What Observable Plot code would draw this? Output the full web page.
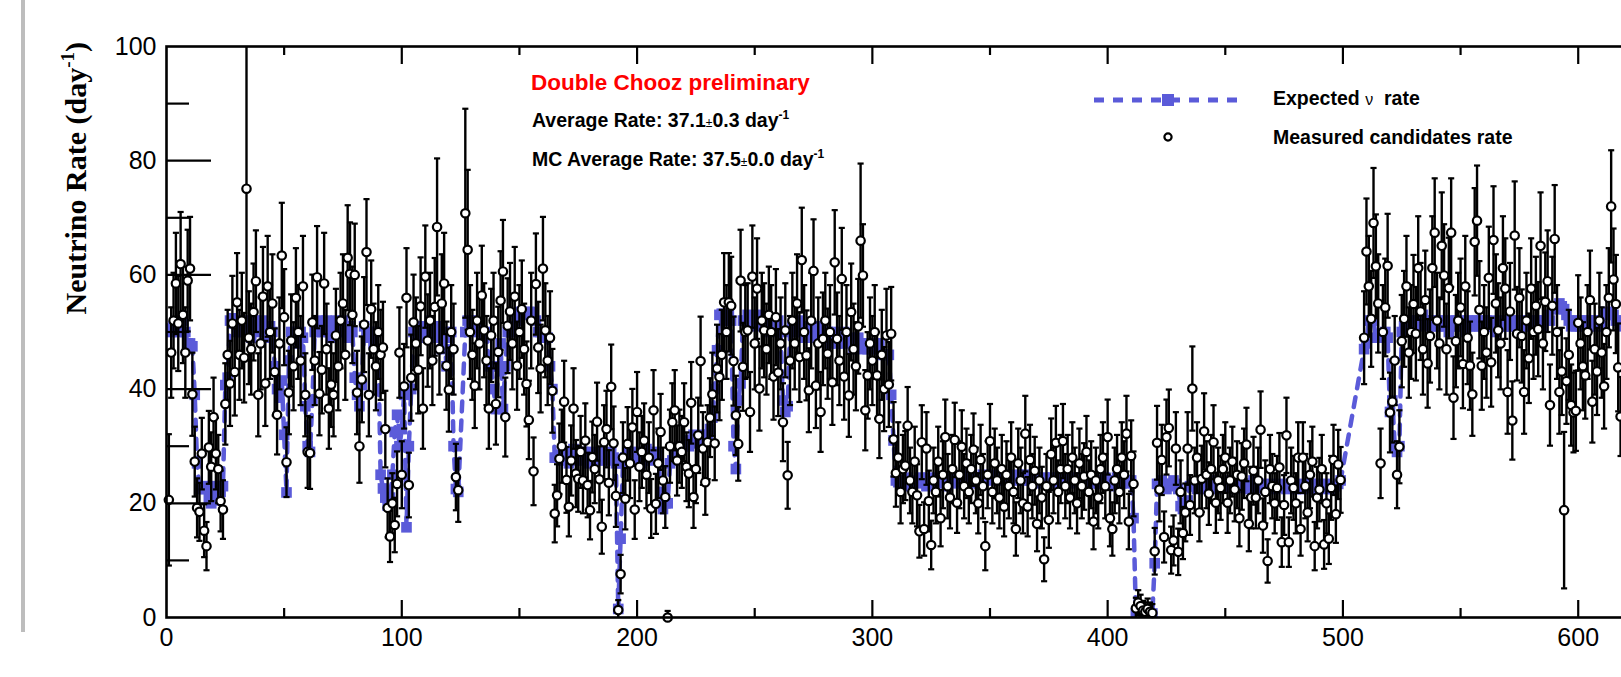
<!DOCTYPE html>
<html><head><meta charset="utf-8">
<script src="https://cdn.jsdelivr.net/npm/d3@7"></script>
<script src="https://cdn.jsdelivr.net/npm/@observablehq/plot@0.6"></script>
<style>
html,body{margin:0;padding:0;overflow:hidden;background:#fff;width:1621px;height:677px}
#wrap{position:relative;width:1621px;height:677px;overflow:hidden;background:#fff}
#bar{position:absolute;left:21px;top:0;width:4px;height:632px;background:#bdbdbd;z-index:2}
#chart{position:absolute;left:0;top:0}
#chart svg{max-width:none !important}
</style></head><body><div id="wrap"><div id="bar"></div><div id="chart"></div></div>
<script>
// ---- data: measured candidate rate per day and expected rate (day^-1) ----
const startA = 1;
const measA = [
20.6,46.4,52,58.5,51.5,61.9,53,46.4,59,61.1,
39.1,27.3,19.2,18.5,28.7,15.2,12.5,29.8,26.4,35.1,
28.7,26,20.4,18.9,37.4,46,41,51.5,43,55.2,
46,52,45.5,75.1,49,47,53.5,58.9,39,48,
56.2,41,58,50,55,43,35.5,48,63.4,52.6,
27.2,39.4,48.5,44,56,50,45,58,39,29,
28.8,51.7,45,59.6,39.2,43.4,58.5,47,36.6,40.8,
39,49.4,44,52,55,46,63,60.2,53,60,
39.4,30,41.7,51.3,64,39,54,47,44,50,
46,47.3,33,19.2,14.2,20,16.2,23.4,46.4,25,
40.5,56,23.2,42,51.7,48,43.4,54.5,36.6,59.7,
48.5,52,45,54.4,68.4,47,55,58.5,44.1,39.9,
50,47,24.6,22.3];
const expA = [
50.6,50,51,50.6,50,51,52,50,48,48,
47.5,39,27,22.5,22.8,22.5,23,21,20,22,
23,20.5,22,23,40.7,42,52,52.4,52,50,
51,50,52,51,50,49,51,52,50,51,
52,50,49,51,50,44,40,38.5,41.5,32,
21.9,45,50,49,50,48,50,49,37,30,
29,38,50,51,52,50,51,52,50,49,
51,52,50,51,52,50,49,51,50,42,
39,37,40.7,51,50,49,50,48,50,47,
25,22.6,21,19.6,21,25,32.5,35.5,30,33,
39,15.8,30,40,50,49,51,50,49,51,
50,52,50,49,51,50,47,50,44,49,
50,30,22.5,22];

const startB = 127;
const measB = [
70.8,64.4,50,46,40.6,52,48,56.4,50.3,45,
36.6,49.4,52,37.4,46.5,55.5,60.6,35.1,51.1,53.6,
48,56.2,44.1,50,54,47,40.9,34.6,52,25.6,
58.4,47.3,43.6,61.1,50.3,45,49,39.7,18.2,21.4,
27.8,30,37.8,24.1,19.4,27.5,36.6,25.2,24.3,29,
24,31,23.2,18.8,28.1,26,34.3,24.2,15.9,30.7,
33,23.6,40.4,30.5,21.3,1.3,7.6,28,20.8,30.4,
27,33.3,18.9,36,26.4,29,31,25,28,19.1,
36.3,19.9,27,32.5,24,21.1,0,30,34.2,36.3,
27.5,30,29,34.2,26.4,25.2,37.6,21.1,26,31.9,
44.9,29.6,23.7,30.7,35,39.1,30.5,43.6,42.1,46,
55.2,50,55.2,54.6,44.9,35.4,30.4,59,43.9,50,
50.3,36,59.7,48,57.6,40.1,52,50.3,47,53,
50,42.2,52.6,42.9,48,34.2,50.3,24.9,45,52,
48,55,45.6,62.6,50,45.9,39.8,52,60.7,40.6,
48,36,48.8,52,46.2,50,41.2,62.2,48.8,45,
59.3,42.2,50,38.9,53.5,47,44,51,66,59.9,
36.3,42.4,48,45,50,42.4,34.8,46,40,49.4,
40.8,49.7,31.2,25.3,28,22,26,26.6,33.6,24,
22,27.3,21.4,15.1,30.7,15.5,29.6,20.4,12.7,24,
22,27.3,17.4,25,31.6,23,21,26,31.1,20.1,
25,29.9,23,27,22,26,29.4,24,20,27.6,
23,12.5,25,30.9,22,27,24,21,26,19.4,
25,23,28,22,15.5,27,24,20,32.2,19.4,
27.6,23,25.7,16.4,24,21,10.2,23,17.1,28.6,
24,30.6,22,26,30.9,23,26,21,28,24,
20,27,23,24.7,29,22,25,16.8,24,21,
26,28,23,31.6,17.4,15.5,24,26,22,28,
25,32.2,16.8,28.3,23.4,1.6,2.6,2.0,1.2,1.0,
1.5,1.0,0.8,11.6,30.6,22.4,27.6,14.1,31.6,33.2,
11.8,13.5,29.6,11.5,22,14.8,18.4,29.6,19.7,40.1,
24,28,18.4,24.3,32.6,25,21.7,26,30.7,20.1,
24,22.7,26,28,20.1,24,27.3,22.4,25,17.4,
24.7,27,30.3,16.4,21,25.7,21,24,32.9,16.1,
22,9.9,26,23,20,22.7,26.3,13.2,19.7,31.9,
13.2,24,22.7,20,28,15.5,28,23,18.4,25,
27.3,12.5,21,22.4,26,12.8,20,13.8,22.7,27.6,
18.1,26.8,24.1];
const expB = [
50,52,52,52,51,50,51,50,49,50,
44,44,40,36.5,44,48,36.5,44,50,50,
51,50,52,53.5,53.5,53.5,53,53.5,53,53.5,
52,50,50,49,50,49,44,40,28,28,
28.5,27.5,29,28,27,28.5,29.5,28,27.5,28,
29,28,27,28.5,29,28,27.5,28,29,28.5,
27.5,28,29,28,27,1.5,13.8,27,28,29,
28,27.5,28.5,29,28,27,28.5,29.5,28,27.5,
28,29,28.5,22,19,20,20,27,27.5,28,
29,30,29.5,30,31,30,31,32,31,30.5,
31,32,31.5,32,33,35,40,46.8,53,53.2,
52,52,53,52,30,26,38,41,52,52,
53,52,51,52,53,52,51,52,50,51,
52,50,51,52,50,38,36,37,50,51,
50,51,52,50,49,51,50,49,50,51,
49,50,51,49,50,48,49,50,48,49,
48,50,49,48,49,47,48,49,48,47,
48,47,48,47,48,47,48,46,46,46,
46,39,31,24,23.7,23.5,24,23,24.5,23.5,
23,24,23.7,24.5,23.5,24,23,24.5,24,23.5,
24,24.5,23.5,24.3,24,23,24.5,24,23.5,24,
24.5,24,23.5,24,25,24.5,24,23.5,24.5,24,
25,24.5,24,24.7,25,24.5,24,25,24.5,24,
24.7,25,24.5,24,24.7,25,24.5,24,25,24.5,
24,24.7,25,24.5,24,23.5,24.5,24,23.7,24.5,
24,23.5,24.5,24,23.5,24,24.5,23.5,24,23.7,
24.5,24,23.5,24,23,24.5,24,23.5,24,23.5,
24,23.5,24.5,24,23.5,24,23,24.5,24,23.5,
24,23.5,24,24,17.4,0.7,0.7,0.6,0.7,0.6,
0.7,0.6,0.7,9.5,23.4,23,24,23.4,22.5,23.4,
23,24,23.4,22.5,19.5,19,20,20.5,23,23.4,
23,22.5,23.4,24,23,22.5,23.4,23,24,23,
22.5,23.4,23,22.7,23.4,24,23,22.5,23.4,23,
22.7,23.4,23,22.5,23.4,24,23,22.7,23.4,23,
22.5,23,23.4,22.7,22.5,23,23.4,22.7,23,22.5,
23.4,23,22.7,22.5,23,23.4,22.5,23,22.7,23.4,
23,22.5,23.4,22.7,23,22.5,23.4,22.7,23,22.5,
23,23.4,24];

const startC = 509;
const measC = [
49,64.1,58,52.3,69.1,61.5,55,27,50,54.3,
61.6,35.9,37.8,45,25,29.9,48.4,52.3,58,46.4,
50,54.9,49.7,61.2,53.6,47,55.6,44.5,49.3,61.2,
67.4,52,48,65.1,59.9,47,57.7,67.4,38.5,48.4,
52,54.3,44.4,58,49,44.1,39.1,65.8,69.5,53.9,
44.1,50,46.4,59.5,44.7,66.1,55,50.3,48,61.2,
57.6,39.5,53.6,34.5,66.9,49.7,56,49.3,39.5,52,
45.4,57.6,50,54.6,50.5,65.1,48,55.3,58.9,37.2,
54.6,66.3,50,39.5,43.1,18.8,41.4,46,37.2,35.9,
36.2,51.6,48,44,42.4,50,55.6,37.8,47,43.1,
52,46.4,40.5,50,56,72,59.2,54.9,43.8,35.2];
const expC = [
47,48,52,52,52,49,49,49,49,50,
49,36,38,30,29,30,50,51,52,51,
52,51,52,51,52,53,52,51,52,51,
52,51,52,51,52,51,50,52,51,52,
51,52,51,50,52,51,52,51,52,51,
52,51,52,51,52,51,50,51,52,51,
52,51,52,51,52,51,52,51,52,51,
51,52,51,52,51,52,51,52,53,52,
54,54.5,54,55,54.5,54,53,52,51,52,
51,52,51,52,51,52,51,52,52,51,
52,51,53,53.5,53,53.5,53,52,52,51];

// days with short live time (larger statistical error), [day, error]
const shortDays = [[1, 11.5], [34, 26], [115, 12], [127, 18.3], [128, 14], [295, 13.5], [594, 13.7]];

const xMajor = [100, 200, 300, 400, 500, 600];
const xMinor = [50, 150, 250, 350, 450, 550, 650];
const xLabels = [0, 100, 200, 300, 400, 500, 600];
const yMajor = [20, 40, 60, 80];
const yMinor = [10, 30, 50, 70, 90];
const yLabels = [0, 20, 40, 60, 80, 100];

// ---- build tables ----
const toRows = (start, vals) => vals.map((v, i) => ({day: start + i, v}));
const expected = [...toRows(startA, expA), ...toRows(startB, expB), ...toRows(startC, expC)];
const errMap = new Map(shortDays);
const measured = [...toRows(startA, measA), ...toRows(startB, measB), ...toRows(startC, measC)]
  .map(d => ({...d, e: errMap.has(d.day) ? errMap.get(d.day) : 1.15 * Math.sqrt(d.v + 1)}));
const caps = measured.flatMap(d => [{day: d.day, y: d.v - d.e}, {day: d.day, y: d.v + d.e}]);

// ---- layout ----
const W = 1833, H = 677, ML = 166, MR = 20, MT = 46, MB = 60, XMAX = 700;
const pxDay = (W - ML - MR) / XMAX, pxUnit = (H - MT - MB) / 100;
const BLUE = "#5b5bd9";

const chart = Plot.plot({
  width: W, height: H, marginLeft: ML, marginRight: MR, marginTop: MT, marginBottom: MB,
  x: {domain: [0, XMAX]},
  y: {domain: [0, 100]},
  style: {fontFamily: "'Liberation Sans', Arial, Helvetica, sans-serif", fontSize: "25px", background: "white", maxWidth: "none", color: "black"},
  marks: [
    Plot.line(expected, {x: "day", y: "v", stroke: BLUE, strokeWidth: 4.5, strokeDasharray: "10,9", clip: true}),
    Plot.dot(expected, {x: "day", y: "v", symbol: "square", r: 6, fill: BLUE, stroke: "none", clip: true}),
    Plot.ruleX(measured, {x: "day", y1: d => Math.max(0, d.v - d.e), y2: d => d.v + d.e, stroke: "black", strokeWidth: 2.4, clip: true}),
    Plot.link(caps, {x1: d => d.day - 1.3, x2: d => d.day + 1.3, y1: "y", y2: "y", stroke: "black", strokeWidth: 2.2, clip: true}),
    Plot.dot(measured, {x: "day", y: "v", r: 4.2, fill: "white", stroke: "black", strokeWidth: 2.2}),
    // inner tick marks
    Plot.ruleY(yMajor, {y: d => d, x1: 0, x2: 45 / pxDay, stroke: "black", strokeWidth: 2.2}),
    Plot.ruleY(yMinor, {y: d => d, x1: 0, x2: 23 / pxDay, stroke: "black", strokeWidth: 2.2}),
    Plot.ruleX(xMajor, {x: d => d, y1: 0, y2: 17 / pxUnit, stroke: "black", strokeWidth: 2.2}),
    Plot.ruleX(xMinor, {x: d => d, y1: 0, y2: 9 / pxUnit, stroke: "black", strokeWidth: 2.2}),
    Plot.ruleX(xMajor, {x: d => d, y1: 100 - 18 / pxUnit, y2: 100, stroke: "black", strokeWidth: 2.2}),
    Plot.ruleX(xMinor, {x: d => d, y1: 100 - 9 / pxUnit, y2: 100, stroke: "black", strokeWidth: 2.2}),
    Plot.frame({stroke: "black", strokeWidth: 2.6}),
    Plot.axisX({ticks: xLabels, tickSize: 0, tickPadding: 11, label: null, tickFormat: d => String(d), fontSize: 25}),
    Plot.axisY({ticks: yLabels, tickSize: 0, tickPadding: 10, label: null, tickFormat: d => String(d), fontSize: 25})
  ]
});
document.getElementById("chart").appendChild(chart);

// ---- titles, annotations, legend ----
const svg = d3.select(chart);
const sans = "'Liberation Sans', Arial, Helvetica, sans-serif";
const yt = svg.append("text")
  .attr("transform", "translate(86,42) rotate(-90)")
  .attr("text-anchor", "end")
  .attr("font-family", "'Liberation Serif', 'Times New Roman', serif")
  .attr("font-weight", "bold").attr("font-size", 30).attr("fill", "black");
yt.append("tspan").text("Neutrino Rate (day");
yt.append("tspan").attr("font-size", 19).attr("dy", -12).text("-1");
yt.append("tspan").attr("dy", 12).text(")");

svg.append("text").attr("x", 531).attr("y", 90).attr("text-anchor", "start")
  .attr("font-family", sans).attr("font-weight", "bold").attr("font-size", 22.5).attr("fill", "#ff0000")
  .text("Double Chooz preliminary");

function rateLine(y, label, val, err) {
  const t = svg.append("text").attr("x", 532).attr("y", y).attr("text-anchor", "start")
    .attr("font-family", sans).attr("font-weight", "bold").attr("font-size", 19.5).attr("fill", "black");
  t.append("tspan").text(label + val);
  t.append("tspan").attr("font-size", 12).attr("font-weight", "normal").text("±");
  t.append("tspan").text(err + " day");
  t.append("tspan").attr("font-size", 12).attr("dy", -8).text("-1");
}
rateLine(127, "Average Rate: ", "37.1", "0.3");
rateLine(166, "MC Average Rate: ", "37.5", "0.0");

// legend
svg.append("line").attr("x1", 1094).attr("x2", 1242).attr("y1", 100).attr("y2", 100)
  .attr("stroke", BLUE).attr("stroke-width", 5).attr("stroke-dasharray", "10,9");
svg.append("rect").attr("x", 1162).attr("y", 94).attr("width", 12).attr("height", 12).attr("fill", BLUE);
const l1 = svg.append("text").attr("x", 1273).attr("y", 105).attr("text-anchor", "start")
  .attr("font-family", sans).attr("font-weight", "bold").attr("font-size", 19.5).attr("fill", "black");
l1.append("tspan").text("Expected ");
l1.append("tspan").attr("font-weight", "normal").attr("font-size", 16).text("ν");
l1.append("tspan").text("  rate");
svg.append("circle").attr("cx", 1168).attr("cy", 137).attr("r", 3.6)
  .attr("fill", "white").attr("stroke", "black").attr("stroke-width", 2.2);
svg.append("text").attr("x", 1273).attr("y", 144).attr("text-anchor", "start")
  .attr("font-family", sans).attr("font-weight", "bold").attr("font-size", 19.5).attr("fill", "black")
  .text("Measured candidates rate");
</script></body></html>
